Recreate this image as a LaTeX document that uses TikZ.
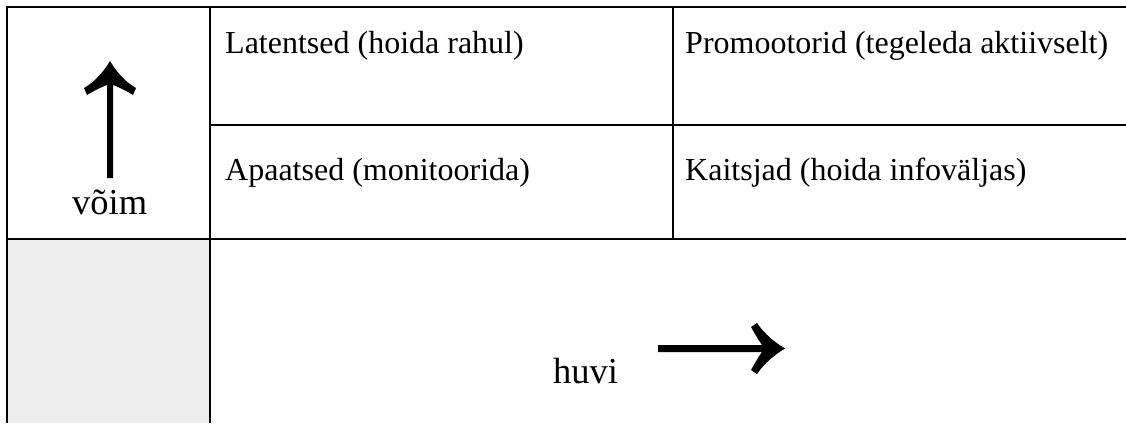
\documentclass[tikz,border=0pt]{standalone}
\usepackage{fontspec}
\setmainfont{Liberation Serif}
\definecolor{cellgray}{HTML}{EEEEEE}
\begin{document}
\begin{tikzpicture}[x=1pt,y=-1pt,
  rule/.style={line width=2.6pt,draw=black},
  celltext/.style={inner sep=0pt,anchor=base west,font=\fontsize{32}{38}\selectfont},
  axistext/.style={inner sep=0pt,anchor=base west,font=\fontsize{36.5}{42}\selectfont},
  glyph/.style={fill=black,draw=none}]
\useasboundingbox (0,0) rectangle (1126,423);
% shaded cell
\fill[cellgray] (8,239) rectangle (210,423);
% grid lines
\draw[rule] (7,7) -- (1126,7);
\draw[rule] (7,5.7) -- (7,423);
\draw[rule] (210,7) -- (210,423);
\draw[rule] (673,7) -- (673,239);
\draw[rule] (210,125) -- (1126,125);
\draw[rule] (7,239) -- (1126,239);
% cell texts
\node[celltext] (lat) at (225,53) {Latentsed (hoida rahul)};
\node[celltext] (pro) at (685,53) {Promootorid (tegeleda aktiivselt)};
\node[celltext] (apa) at (225,180) {Apaatsed (monitoorida)};
\node[celltext] (kai) at (685,180) {Kaitsjad (hoida infoväljas)};
% axis labels
\node[axistext] (voim) at (72,214) {võim};
\node[axistext] (huvi) at (553,383) {huvi};
% up arrow
\fill[glyph] (110,61) .. controls (104,71) and (96,81) .. (84,88) -- (87,95)
  .. controls (95,90) and (102,87) .. (107,85) -- (107,178) -- (113,178) -- (113,85)
  .. controls (118,87) and (125,90) .. (133,95) -- (136,88)
  .. controls (124,81) and (116,71) .. (110,61) -- cycle;
% right arrow
\fill[glyph] (785,348.5) .. controls (775,342.5) and (765,334.5) .. (757,323) -- (751,327)
  .. controls (755,334) and (759,341) .. (762,345) -- (658,345) -- (658,352) -- (762,352)
  .. controls (759,356) and (755,363) .. (751,370) -- (757,374)
  .. controls (765,362.5) and (775,354.5) .. (785,348.5) -- cycle;
\end{tikzpicture}
\end{document}
